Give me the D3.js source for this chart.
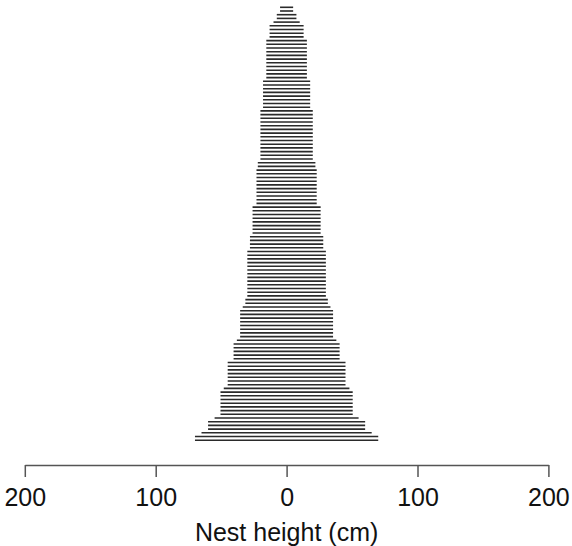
<!DOCTYPE html>
<html>
	<head>
		<meta charset="utf-8">
		<title>Nest height</title>
		<script src="https://d3js.org/d3.v7.min.js"></script>
		<style type="text/css">
		body {
			margin: 0;
			background: white;
		}
		.axis text {
			font-family: "Liberation Sans", Arial, sans-serif;
			font-size: 25px;
			fill: #111;
		}
		</style>
	</head>
	<body>
		<script type="text/javascript">

		// Half-width of each line (cm), top of the stack to the bottom
		var nestHeights = [
			5, 5, 7.5, 7.5, 10, 13, 13, 13, 13,
			15.5, 15.5, 15.5, 15.5, 15.5, 15.5, 15.5, 15.5, 15.5, 15.5, 15.5,
			18, 18, 18, 18, 18, 18, 18, 18,
			20, 20, 20, 20, 20, 20, 20, 20, 20, 20, 20, 20, 20, 20,
			22, 22,
			23, 23, 23, 23, 23, 23, 23, 23, 23, 23,
			26, 26, 26, 26, 26, 26, 26, 26,
			28, 28, 28, 28,
			30, 30, 30, 30, 30, 30, 30, 30, 30, 30, 30, 30, 30,
			31.5, 31.5, 33.5,
			35.5, 35.5, 35.5, 35.5, 35.5, 35.5, 35.5, 35.5,
			38, 40.5, 40.5, 40.5, 40.5, 40.5,
			45, 45, 45, 45, 45, 45, 45,
			48, 50.5, 50.5, 50.5, 50.5, 50.5, 50.5, 50.5,
			55, 60, 60, 60, 65, 70, 70
		];

		// axis ticks
		var tickValues = [-200, -100, 0, 100, 200];
		var axisTitle = "Nest height (cm)";

		var width = 572;
		var height = 546;

		var svg = d3.select("body")
					.append("svg")
					.attr("width", width)
					.attr("height", height);

		// x scale is symmetric around zero
		var x = d3.scaleLinear()
				  .domain([-200, 200])
				  .range([24.8, 548.4]);

		// one row per nest
		var y = d3.scalePoint()
				  .domain(d3.range(nestHeights.length))
				  .range([7.3, 440.2]);

		svg.append("g")
			.selectAll("line")
			.data(nestHeights)
			.enter()
			.append("line")
			.attr("x1", function(d) { return x(-d); })
			.attr("x2", function(d) { return x(d); })
			.attr("y1", function(d, i) { return y(i); })
			.attr("y2", function(d, i) { return y(i); })
			.style("stroke", "#2a2a2a")
			.style("stroke-width", 1.6);

		// bottom axis, labels without sign
		var xAxis = d3.axisBottom(x)
					  .tickValues(tickValues)
					  .tickFormat(function(d) { return Math.abs(d); })
					  .tickSize(12)
					  .tickSizeOuter(0)
					  .tickPadding(11);

		var axisG = svg.append("g")
			.attr("class", "axis")
			.attr("transform", "translate(0,465)")
			.call(xAxis);

		axisG.select(".domain")
			.style("stroke", "#555")
			.style("stroke-width", 1.5);
		axisG.selectAll(".tick line")
			.style("stroke", "#555")
			.style("stroke-width", 1.5);

		svg.append("text")
			.attr("x", x(0))
			.attr("y", 541)
			.attr("text-anchor", "middle")
			.style("font-family", "'Liberation Sans', Arial, sans-serif")
			.style("font-size", "25px")
			.style("fill", "#111")
			.text(axisTitle);

		</script>
	</body>
</html>
